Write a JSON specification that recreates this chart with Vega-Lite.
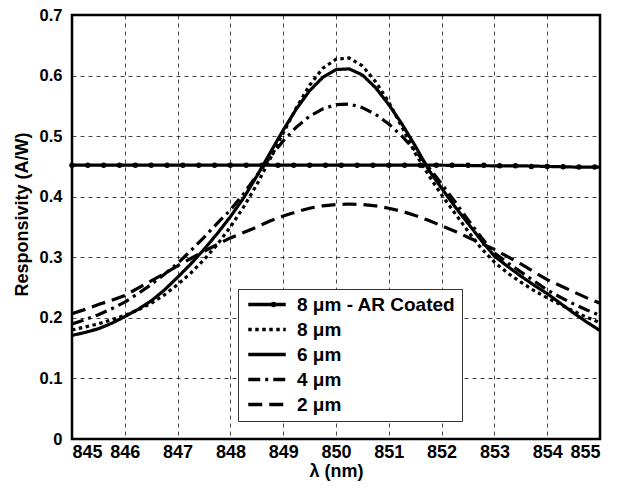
{
  "$schema": "https://vega.github.io/schema/vega-lite/v6.json",
  "width": 528,
  "height": 424,
  "autosize": {"type": "none"},
  "padding": {"left": 72, "top": 15, "right": 19, "bottom": 50},
  "background": "white",
  "config": {
    "font": "Liberation Sans",
    "view": {"stroke": "black", "strokeWidth": 2.5},
    "axis": {
      "domain": false,
      "ticks": false,
      "grid": true,
      "gridColor": "black",
      "gridDash": [4, 4],
      "gridWidth": 0.8,
      "gridOpacity": 0.9,
      "labelFont": "Liberation Sans",
      "labelFontWeight": "bold",
      "labelColor": "black",
      "titleFont": "Liberation Sans",
      "titleFontWeight": "bold",
      "titleColor": "black",
      "titleFontSize": 18
    }
  },
  "datasets": {
    "curves": [
      {"x":845,"y":0.180,"s":"8 μm"},{"x":845.25,"y":0.185,"s":"8 μm"},{"x":845.5,"y":0.190,"s":"8 μm"},{"x":845.75,"y":0.197,"s":"8 μm"},{"x":846,"y":0.204,"s":"8 μm"},{"x":846.25,"y":0.213,"s":"8 μm"},{"x":846.5,"y":0.224,"s":"8 μm"},{"x":846.75,"y":0.238,"s":"8 μm"},{"x":847,"y":0.255,"s":"8 μm"},{"x":847.25,"y":0.274,"s":"8 μm"},{"x":847.5,"y":0.296,"s":"8 μm"},{"x":847.75,"y":0.321,"s":"8 μm"},{"x":848,"y":0.350,"s":"8 μm"},{"x":848.25,"y":0.383,"s":"8 μm"},{"x":848.5,"y":0.420,"s":"8 μm"},{"x":848.75,"y":0.462,"s":"8 μm"},{"x":849,"y":0.505,"s":"8 μm"},{"x":849.25,"y":0.547,"s":"8 μm"},{"x":849.5,"y":0.584,"s":"8 μm"},{"x":849.75,"y":0.612,"s":"8 μm"},{"x":850,"y":0.627,"s":"8 μm"},{"x":850.25,"y":0.629,"s":"8 μm"},{"x":850.5,"y":0.616,"s":"8 μm"},{"x":850.75,"y":0.590,"s":"8 μm"},{"x":851,"y":0.556,"s":"8 μm"},{"x":851.25,"y":0.515,"s":"8 μm"},{"x":851.5,"y":0.472,"s":"8 μm"},{"x":851.75,"y":0.436,"s":"8 μm"},{"x":852,"y":0.403,"s":"8 μm"},{"x":852.25,"y":0.373,"s":"8 μm"},{"x":852.5,"y":0.343,"s":"8 μm"},{"x":852.75,"y":0.315,"s":"8 μm"},{"x":853,"y":0.292,"s":"8 μm"},{"x":853.25,"y":0.274,"s":"8 μm"},{"x":853.5,"y":0.259,"s":"8 μm"},{"x":853.75,"y":0.245,"s":"8 μm"},{"x":854,"y":0.233,"s":"8 μm"},{"x":854.25,"y":0.222,"s":"8 μm"},{"x":854.5,"y":0.211,"s":"8 μm"},{"x":854.75,"y":0.201,"s":"8 μm"},{"x":855,"y":0.192,"s":"8 μm"},
      {"x":845,"y":0.171,"s":"6 μm"},{"x":845.25,"y":0.176,"s":"6 μm"},{"x":845.5,"y":0.182,"s":"6 μm"},{"x":845.75,"y":0.191,"s":"6 μm"},{"x":846,"y":0.202,"s":"6 μm"},{"x":846.25,"y":0.214,"s":"6 μm"},{"x":846.5,"y":0.228,"s":"6 μm"},{"x":846.75,"y":0.246,"s":"6 μm"},{"x":847,"y":0.267,"s":"6 μm"},{"x":847.25,"y":0.289,"s":"6 μm"},{"x":847.5,"y":0.313,"s":"6 μm"},{"x":847.75,"y":0.339,"s":"6 μm"},{"x":848,"y":0.367,"s":"6 μm"},{"x":848.25,"y":0.398,"s":"6 μm"},{"x":848.5,"y":0.434,"s":"6 μm"},{"x":848.75,"y":0.472,"s":"6 μm"},{"x":849,"y":0.510,"s":"6 μm"},{"x":849.25,"y":0.545,"s":"6 μm"},{"x":849.5,"y":0.575,"s":"6 μm"},{"x":849.75,"y":0.597,"s":"6 μm"},{"x":850,"y":0.610,"s":"6 μm"},{"x":850.25,"y":0.611,"s":"6 μm"},{"x":850.5,"y":0.601,"s":"6 μm"},{"x":850.75,"y":0.580,"s":"6 μm"},{"x":851,"y":0.552,"s":"6 μm"},{"x":851.25,"y":0.520,"s":"6 μm"},{"x":851.5,"y":0.484,"s":"6 μm"},{"x":851.75,"y":0.445,"s":"6 μm"},{"x":852,"y":0.414,"s":"6 μm"},{"x":852.25,"y":0.384,"s":"6 μm"},{"x":852.5,"y":0.356,"s":"6 μm"},{"x":852.75,"y":0.328,"s":"6 μm"},{"x":853,"y":0.302,"s":"6 μm"},{"x":853.25,"y":0.285,"s":"6 μm"},{"x":853.5,"y":0.269,"s":"6 μm"},{"x":853.75,"y":0.254,"s":"6 μm"},{"x":854,"y":0.240,"s":"6 μm"},{"x":854.25,"y":0.224,"s":"6 μm"},{"x":854.5,"y":0.208,"s":"6 μm"},{"x":854.75,"y":0.193,"s":"6 μm"},{"x":855,"y":0.179,"s":"6 μm"},
      {"x":845,"y":0.190,"s":"4 μm"},{"x":845.25,"y":0.197,"s":"4 μm"},{"x":845.5,"y":0.205,"s":"4 μm"},{"x":845.75,"y":0.215,"s":"4 μm"},{"x":846,"y":0.226,"s":"4 μm"},{"x":846.25,"y":0.240,"s":"4 μm"},{"x":846.5,"y":0.255,"s":"4 μm"},{"x":846.75,"y":0.272,"s":"4 μm"},{"x":847,"y":0.290,"s":"4 μm"},{"x":847.25,"y":0.311,"s":"4 μm"},{"x":847.5,"y":0.333,"s":"4 μm"},{"x":847.75,"y":0.356,"s":"4 μm"},{"x":848,"y":0.378,"s":"4 μm"},{"x":848.25,"y":0.405,"s":"4 μm"},{"x":848.5,"y":0.435,"s":"4 μm"},{"x":848.75,"y":0.465,"s":"4 μm"},{"x":849,"y":0.492,"s":"4 μm"},{"x":849.25,"y":0.515,"s":"4 μm"},{"x":849.5,"y":0.533,"s":"4 μm"},{"x":849.75,"y":0.545,"s":"4 μm"},{"x":850,"y":0.552,"s":"4 μm"},{"x":850.25,"y":0.553,"s":"4 μm"},{"x":850.5,"y":0.547,"s":"4 μm"},{"x":850.75,"y":0.536,"s":"4 μm"},{"x":851,"y":0.520,"s":"4 μm"},{"x":851.25,"y":0.500,"s":"4 μm"},{"x":851.5,"y":0.476,"s":"4 μm"},{"x":851.75,"y":0.449,"s":"4 μm"},{"x":852,"y":0.421,"s":"4 μm"},{"x":852.25,"y":0.392,"s":"4 μm"},{"x":852.5,"y":0.362,"s":"4 μm"},{"x":852.75,"y":0.333,"s":"4 μm"},{"x":853,"y":0.307,"s":"4 μm"},{"x":853.25,"y":0.291,"s":"4 μm"},{"x":853.5,"y":0.276,"s":"4 μm"},{"x":853.75,"y":0.261,"s":"4 μm"},{"x":854,"y":0.246,"s":"4 μm"},{"x":854.25,"y":0.234,"s":"4 μm"},{"x":854.5,"y":0.223,"s":"4 μm"},{"x":854.75,"y":0.213,"s":"4 μm"},{"x":855,"y":0.204,"s":"4 μm"},
      {"x":845,"y":0.207,"s":"2 μm"},{"x":845.25,"y":0.214,"s":"2 μm"},{"x":845.5,"y":0.222,"s":"2 μm"},{"x":845.75,"y":0.229,"s":"2 μm"},{"x":846,"y":0.237,"s":"2 μm"},{"x":846.25,"y":0.249,"s":"2 μm"},{"x":846.5,"y":0.261,"s":"2 μm"},{"x":846.75,"y":0.273,"s":"2 μm"},{"x":847,"y":0.286,"s":"2 μm"},{"x":847.25,"y":0.298,"s":"2 μm"},{"x":847.5,"y":0.310,"s":"2 μm"},{"x":847.75,"y":0.321,"s":"2 μm"},{"x":848,"y":0.332,"s":"2 μm"},{"x":848.25,"y":0.341,"s":"2 μm"},{"x":848.5,"y":0.350,"s":"2 μm"},{"x":848.75,"y":0.360,"s":"2 μm"},{"x":849,"y":0.368,"s":"2 μm"},{"x":849.25,"y":0.375,"s":"2 μm"},{"x":849.5,"y":0.381,"s":"2 μm"},{"x":849.75,"y":0.385,"s":"2 μm"},{"x":850,"y":0.387,"s":"2 μm"},{"x":850.25,"y":0.388,"s":"2 μm"},{"x":850.5,"y":0.387,"s":"2 μm"},{"x":850.75,"y":0.385,"s":"2 μm"},{"x":851,"y":0.381,"s":"2 μm"},{"x":851.25,"y":0.376,"s":"2 μm"},{"x":851.5,"y":0.369,"s":"2 μm"},{"x":851.75,"y":0.361,"s":"2 μm"},{"x":852,"y":0.352,"s":"2 μm"},{"x":852.25,"y":0.343,"s":"2 μm"},{"x":852.5,"y":0.333,"s":"2 μm"},{"x":852.75,"y":0.323,"s":"2 μm"},{"x":853,"y":0.313,"s":"2 μm"},{"x":853.25,"y":0.301,"s":"2 μm"},{"x":853.5,"y":0.289,"s":"2 μm"},{"x":853.75,"y":0.276,"s":"2 μm"},{"x":854,"y":0.263,"s":"2 μm"},{"x":854.25,"y":0.253,"s":"2 μm"},{"x":854.5,"y":0.243,"s":"2 μm"},{"x":854.75,"y":0.233,"s":"2 μm"},{"x":855,"y":0.224,"s":"2 μm"},
      {"x":845,"y":0.452,"s":"8 μm - AR Coated"},{"x":846,"y":0.452,"s":"8 μm - AR Coated"},{"x":847,"y":0.452,"s":"8 μm - AR Coated"},{"x":848,"y":0.452,"s":"8 μm - AR Coated"},{"x":849,"y":0.452,"s":"8 μm - AR Coated"},{"x":850,"y":0.452,"s":"8 μm - AR Coated"},{"x":851,"y":0.452,"s":"8 μm - AR Coated"},{"x":852,"y":0.452,"s":"8 μm - AR Coated"},{"x":853,"y":0.451,"s":"8 μm - AR Coated"},{"x":853.5,"y":0.451,"s":"8 μm - AR Coated"},{"x":854,"y":0.450,"s":"8 μm - AR Coated"},{"x":854.5,"y":0.449,"s":"8 μm - AR Coated"},{"x":855,"y":0.449,"s":"8 μm - AR Coated"}
    ],
    "arpts": [
      {"x":845,"y":0.452,"m":"8 μm - AR Coated"},{"x":845.3,"y":0.452,"m":"8 μm - AR Coated"},{"x":845.6,"y":0.452,"m":"8 μm - AR Coated"},{"x":845.9,"y":0.452,"m":"8 μm - AR Coated"},{"x":846.2,"y":0.452,"m":"8 μm - AR Coated"},{"x":846.5,"y":0.452,"m":"8 μm - AR Coated"},{"x":846.8,"y":0.452,"m":"8 μm - AR Coated"},{"x":847.1,"y":0.452,"m":"8 μm - AR Coated"},{"x":847.4,"y":0.452,"m":"8 μm - AR Coated"},{"x":847.7,"y":0.452,"m":"8 μm - AR Coated"},{"x":848,"y":0.452,"m":"8 μm - AR Coated"},{"x":848.3,"y":0.452,"m":"8 μm - AR Coated"},{"x":848.6,"y":0.452,"m":"8 μm - AR Coated"},{"x":848.9,"y":0.452,"m":"8 μm - AR Coated"},{"x":849.2,"y":0.452,"m":"8 μm - AR Coated"},{"x":849.5,"y":0.452,"m":"8 μm - AR Coated"},{"x":849.8,"y":0.452,"m":"8 μm - AR Coated"},{"x":850.1,"y":0.452,"m":"8 μm - AR Coated"},{"x":850.4,"y":0.452,"m":"8 μm - AR Coated"},{"x":850.7,"y":0.452,"m":"8 μm - AR Coated"},{"x":851,"y":0.452,"m":"8 μm - AR Coated"},{"x":851.3,"y":0.452,"m":"8 μm - AR Coated"},{"x":851.6,"y":0.452,"m":"8 μm - AR Coated"},{"x":851.9,"y":0.452,"m":"8 μm - AR Coated"},{"x":852.2,"y":0.452,"m":"8 μm - AR Coated"},{"x":852.5,"y":0.452,"m":"8 μm - AR Coated"},{"x":852.8,"y":0.452,"m":"8 μm - AR Coated"},{"x":853.1,"y":0.451,"m":"8 μm - AR Coated"},{"x":853.4,"y":0.451,"m":"8 μm - AR Coated"},{"x":853.7,"y":0.450,"m":"8 μm - AR Coated"},{"x":854,"y":0.450,"m":"8 μm - AR Coated"},{"x":854.3,"y":0.4495,"m":"8 μm - AR Coated"},{"x":854.6,"y":0.449,"m":"8 μm - AR Coated"},{"x":854.9,"y":0.449,"m":"8 μm - AR Coated"}
    ]
  },
  "layer": [
    {
      "data": {"name": "curves"},
      "mark": {"type": "line", "color": "black", "strokeWidth": 3.2, "strokeCap": "butt", "clip": true},
      "encoding": {
        "x": {
          "field": "x", "type": "quantitative",
          "scale": {"domain": [845, 855], "nice": false, "zero": false},
          "axis": {"values": [845,846,847,848,849,850,851,852,853,854,855], "title": "λ (nm)", "labelFontSize": 18, "labelPadding": 4, "titlePadding": 1, "format": "d"}
        },
        "y": {
          "field": "y", "type": "quantitative",
          "scale": {"domain": [0, 0.7], "nice": false},
          "axis": {"values": [0,0.1,0.2,0.3,0.4,0.5,0.6,0.7], "title": "Responsivity (A/W)", "labelFontSize": 16.5, "labelPadding": 10, "titlePadding": 8, "titleY": 199, "format": "~g"}
        },
        "strokeDash": {
          "field": "s", "type": "nominal",
          "scale": {
            "domain": ["8 μm - AR Coated", "8 μm", "6 μm", "4 μm", "2 μm"],
            "range": ["1,0", "3.5,3.5", "1,0", "12,5,3,5", "14,7"]
          },
          "legend": {
            "title": null,
            "orient": "none",
            "legendX": 166,
            "legendY": 274,
            "padding": 6,
            "fillColor": "white",
            "strokeColor": "#333",
            "symbolType": "M-0.7,0H4.3",
            "symbolSize": 225,
            "symbolStrokeWidth": 3.5,
            "symbolStrokeColor": "black",
            "labelFont": "Liberation Sans",
            "labelFontWeight": "bold",
            "labelFontSize": 19,
            "labelColor": "black",
            "labelOffset": 34,
            "labelLimit": 300,
            "rowPadding": 5,
            "symbolLimit": 10,
            "zindex": 1
          }
        }
      }
    },
    {
      "data": {"name": "arpts"},
      "mark": {"type": "point", "filled": true, "color": "black", "size": 30, "opacity": 1},
      "encoding": {
        "x": {"field": "x", "type": "quantitative"},
        "y": {"field": "y", "type": "quantitative"},
        "shape": {
          "field": "m", "type": "nominal",
          "scale": {"domain": ["8 μm - AR Coated"], "range": ["circle"]},
          "legend": {
            "title": null,
            "orient": "none",
            "legendX": 192,
            "legendY": 280,
            "padding": 0,
            "symbolSize": 30,
            "symbolFillColor": "black",
            "symbolStrokeWidth": 0,
            "symbolOpacity": 1,
            "labelFontSize": 19,
            "labelExpr": "''",
            "zindex": 2
          }
        }
      }
    }
  ]
}
